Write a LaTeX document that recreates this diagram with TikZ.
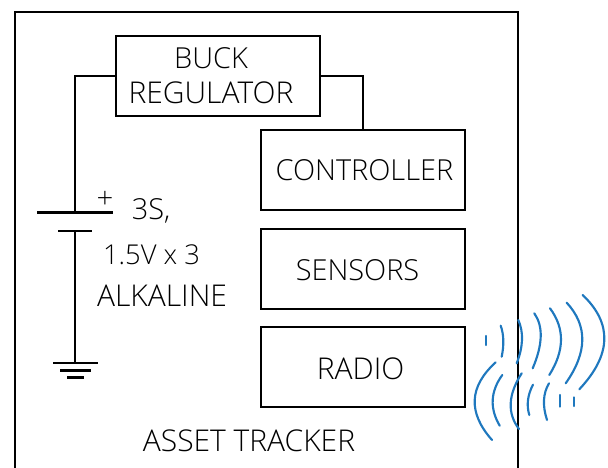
\documentclass[tikz,border=0pt]{standalone}
\usepackage{fontspec}
\usetikzlibrary{calc}
\setmainfont{Open Sans Light}
\tikzset{
  px/.style={x=0.75pt,y=-0.75pt},
  wire/.style={draw=black,line width=1.7pt},
  blockbox/.style={draw=black,line width=1.7pt,minimum width=153pt,minimum height=60pt,inner sep=0pt},
  lbl/.style={inner sep=0pt,font=\fontsize{21.7}{26}\selectfont,text=black},
  lblb/.style={lbl,font=\fontsize{22.5}{26}\selectfont},
  wave/.style={draw=waveblue,line width=1.6pt,line cap=round},
}
\definecolor{waveblue}{RGB}{31,120,190}
\begin{document}
\begin{tikzpicture}[px]
\useasboundingbox (0,0) rectangle (608,468);
\clip (0,0) rectangle (608,468);
% outer
\coordinate (ol) at (15,468);
\coordinate (otl) at (15,12);
\coordinate (otr) at (518,12);
\coordinate (or) at (518,468);
\draw[wire,line join=miter] (ol) -- (otl) -- (otr) -- (or);
% blocks
\node[blockbox] (buck) at (218,76) {};
\node[blockbox] (ctrl) at (363,170) {};
\node[blockbox] (sens) at (363,269) {};
\node[blockbox] (radio) at (363,367) {};
\node[lbl] (t1) at (211,58.5) {BUCK};
\node[lblb] (t2) at (211,93) {REGULATOR};
\node[lbl] (t3) at (364.5,170.5) {CONTROLLER};
\node[lbl] (t4) at (357.5,270) {SENSORS};
\node[lblb] (t5) at (360.5,369) {RADIO};
\node[lblb] (t6) at (249,441) {ASSET TRACKER};
\node[lbl] (t7) at (151,211) {3S,};
\node[lbl,font=\fontsize{20.5}{26}\selectfont] (t8) at (151.5,254.5) {1.5V x 3};
\node[lblb] (t9) at (162,296) {ALKALINE};
\node[lbl,font=\fontsize{22}{24}\selectfont] (plus) at (105,200) {+};
% battery
\coordinate (bp1) at (37,212.5);
\coordinate (bp2) at (113,212.5);
\coordinate (bat) at (75,212.5);
\coordinate (bn1) at (58,231);
\coordinate (bn2) at (92,231);
\coordinate (batn) at (75,231);
\coordinate (gnd) at (75,363);
\coordinate (g1) at (53,363);
\coordinate (g2) at (98,363);
\coordinate (g3) at (60,370.5);
\coordinate (g4) at (91,370.5);
\coordinate (g5) at (67,377.5);
\coordinate (g6) at (84,377.5);
\draw[wire] (buck.west) -| (bat);
\draw[wire] (buck.east) -| (ctrl.north);
\draw[wire] (bp1) -- (bp2);
\draw[wire] (bn1) -- (bn2);
\draw[wire] (batn) -- (gnd);
\draw[wire] (g1) -- (g2);
\draw[wire] (g3) -- (g4);
\draw[wire] (g5) -- (g6);
% waves
\foreach \a/\m/\b in {
  {485.7,336}/{485.7,340.5}/{485.7,345},
  {500.7,325.7}/{503.3,340}/{501.7,356.7},
  {518.3,320}/{522,340}/{516.7,363.3},
  {534.3,313.3}/{540.7,336.7}/{532.7,368.3},
  {550,308.3}/{561,340}/{549.3,375},
  {566.7,302.7}/{582.3,340}/{565.7,383.3},
  {582.7,295}/{604.3,340}/{579.3,389.3},
  {495.7,362.3}/{474.7,400}/{492,440},
  {502.3,375}/{492.7,400}/{499.7,425.7},
  {521.7,373.3}/{510.7,403.3}/{519,429},
  {533,384.7}/{528,400}/{529.3,415},
  {549,383.3}/{544,400}/{547,420},
  {560,395}/{560,400.5}/{560,406.7},
  {574.3,397.3}/{574.3,401.5}/{574.3,406}}
  \draw[wave] (\a) .. controls ($1.3333*(\m)-0.3333*(\b)$) and ($1.3333*(\m)-0.3333*(\a)$) .. (\b);
\end{tikzpicture}
\end{document}
